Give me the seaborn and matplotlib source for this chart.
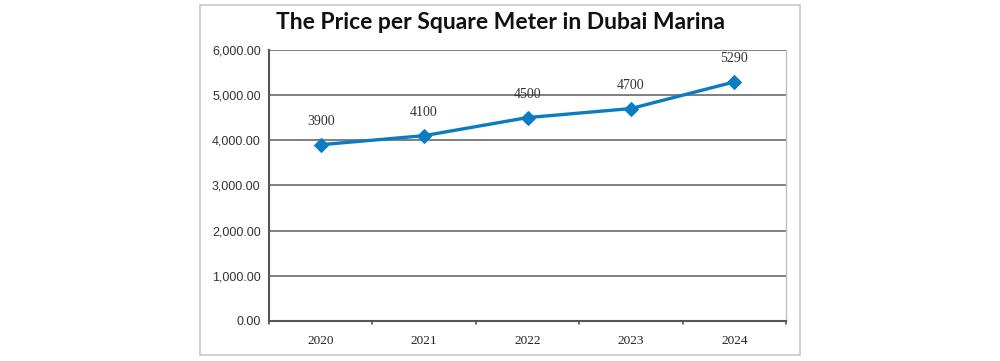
import matplotlib
matplotlib.use("Agg")
import matplotlib.pyplot as plt
import matplotlib.patches as patches
import pandas as pd
import seaborn as sns

# chart data
years = ["2020", "2021", "2022", "2023", "2024"]
prices = [3900, 4100, 4500, 4700, 5290]
y_ticks = [0, 1000, 2000, 3000, 4000, 5000, 6000]

df = pd.DataFrame({"year": years, "price": prices})

sns.set_style("white")
line_color = "#0a7dc2"
grid_color = "#7f7f7f"

fig = plt.figure(figsize=(10, 3.61), dpi=100)

# outer chart frame
fig.patches.append(patches.Rectangle((0.2, 0.017), 0.6, 0.969, transform=fig.transFigure,
                                     fill=False, edgecolor="#c8c8c8", linewidth=1.2))

ax = fig.add_axes([0.269, 0.111, 0.517, 0.751])
sns.lineplot(data=df, x="year", y="price", ax=ax, color=line_color, linewidth=2.4,
             marker="D", markersize=7, markeredgecolor=line_color, sort=False)

ax.set_xlim(-0.5, 4.5)
ax.set_ylim(0, 6000)
ax.set_yticks(y_ticks)
ax.set_yticklabels([f"{v:,.2f}" for v in y_ticks], fontfamily="Liberation Sans",
                   fontsize=9, color="#333333")
ax.set_xticks(range(len(years)))
ax.set_xticklabels(years, fontfamily="Liberation Serif", fontsize=9.5, color="#222222")
ax.tick_params(axis="x", length=0, pad=10)
ax.tick_params(axis="y", length=5, width=1.2, color="#555555", direction="out", pad=1)

# category boundary ticks on the x axis
for b in [i - 0.5 for i in range(len(years) + 1)]:
    ax.plot([b, b], [0, -70], color="#555555", linewidth=1.2, clip_on=False)

ax.yaxis.grid(True, color=grid_color, linewidth=1.4)
ax.set_axisbelow(True)
ax.set_xlabel("")
ax.set_ylabel("")
for side in ["left", "bottom"]:
    ax.spines[side].set_color("#555555")
    ax.spines[side].set_linewidth(1.5)
ax.spines["top"].set_visible(False)
ax.spines["right"].set_color("#c0c0c0")
ax.spines["right"].set_linewidth(1)

# data labels
for i, v in enumerate(prices):
    ax.annotate(str(v), (i, v), xytext=(0, 12), textcoords="offset points",
                ha="center", va="bottom", fontsize=10, fontfamily="Liberation Serif",
                color="#333333")

fig.text(0.5, 0.938, "The Price per Square Meter in Dubai Marina", ha="center", va="center",
         fontsize=16.5, fontweight="bold", fontfamily="Lato", color="#111111")

fig.savefig("out.png", dpi=100)
